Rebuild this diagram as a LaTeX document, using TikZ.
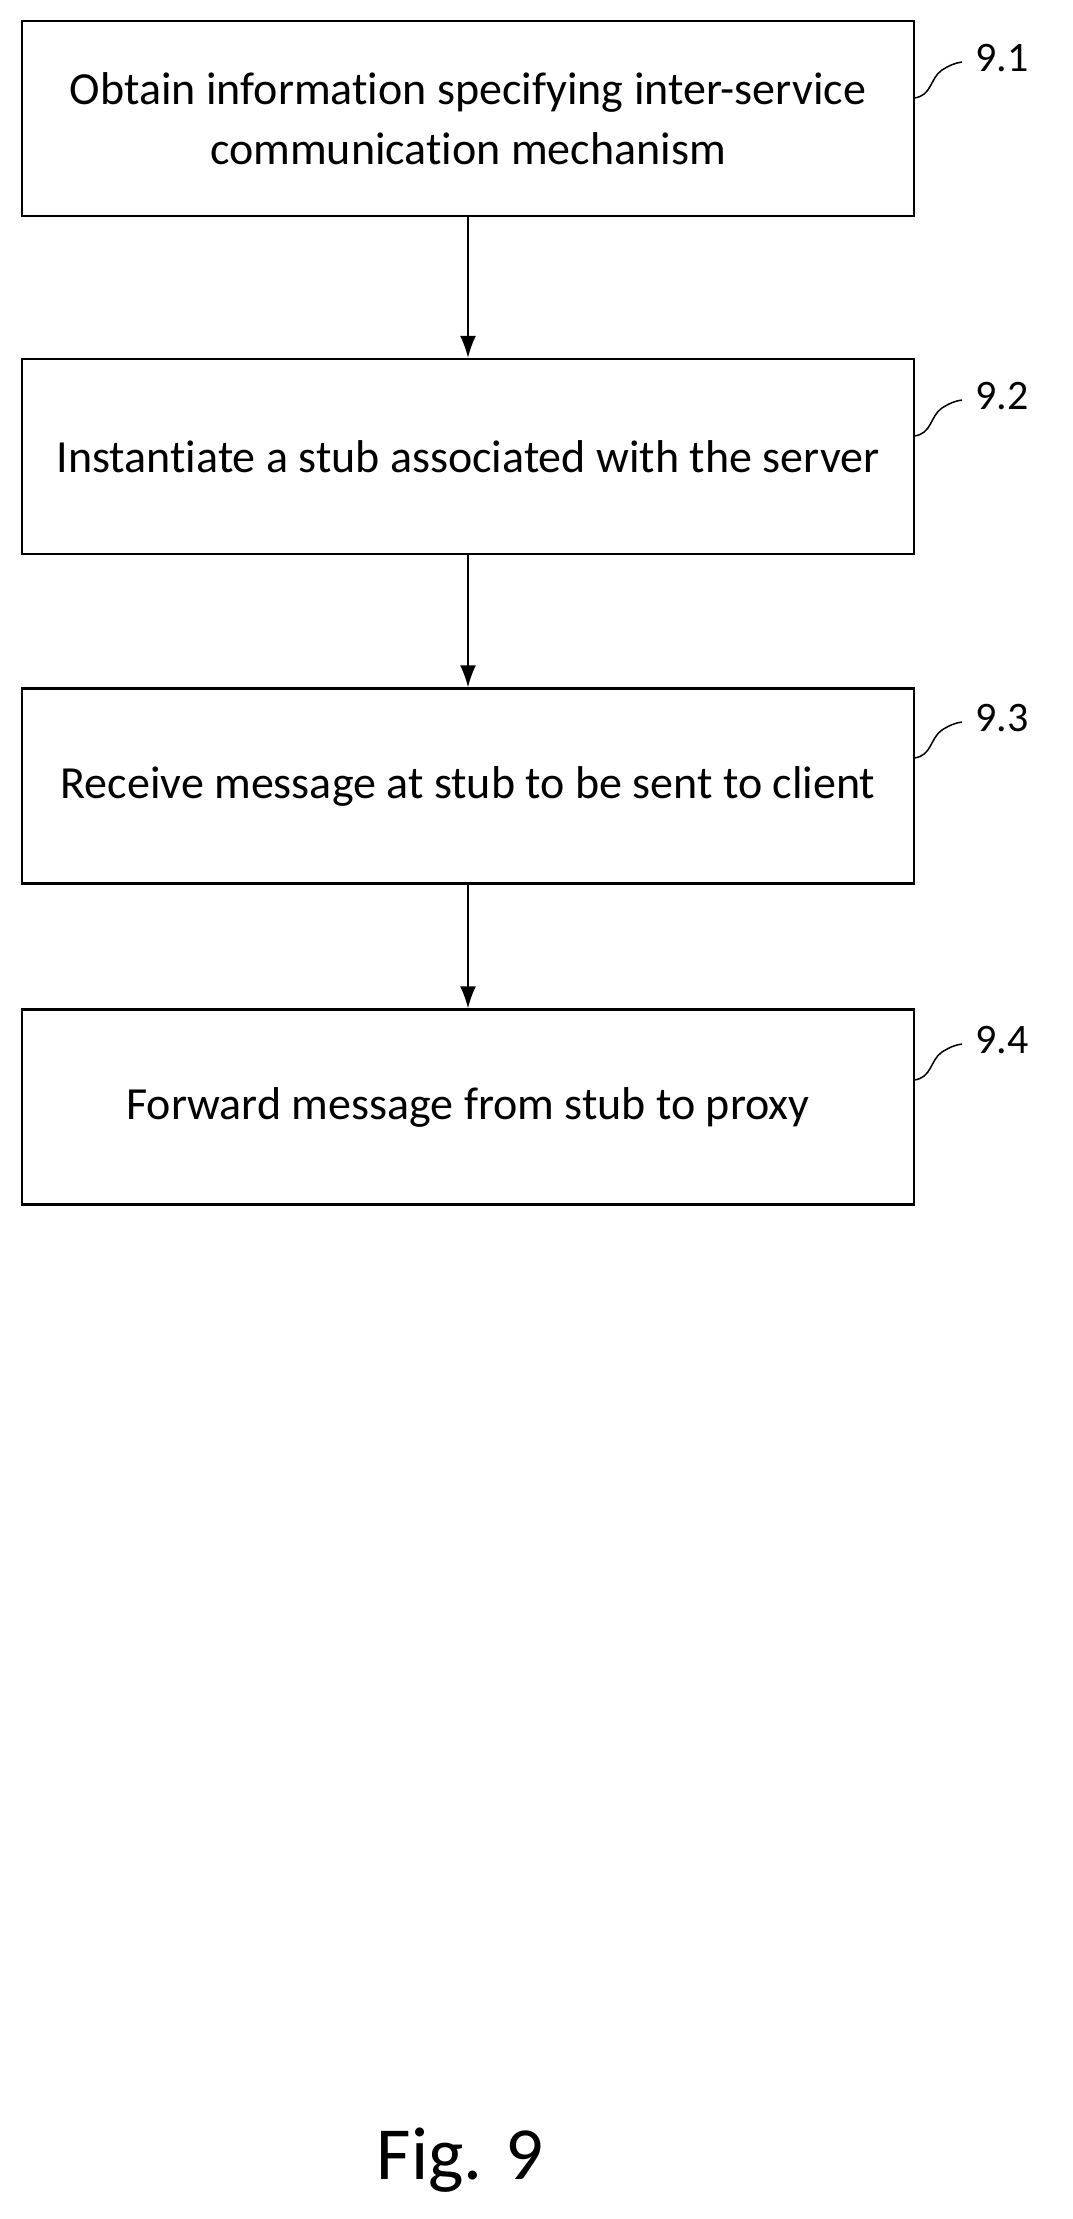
\documentclass[tikz,border=0pt]{standalone}
\usepackage{fontspec}
\setmainfont[Ligatures={NoCommon}]{Carlito}
\usetikzlibrary{arrows.meta}
\begin{document}
\begin{tikzpicture}[x=1pt,y=1pt,
  box/.style={draw,line width=2.2pt,minimum width=892pt,minimum height=195pt,align=center,font=\fontsize{46}{60}\selectfont,inner sep=0pt},
  arr/.style={-{Latex[length=22pt,width=16pt]},line width=2pt},
  lab/.style={font=\fontsize{42}{50}\selectfont,anchor=west},
  sq/.style={line width=1.5pt}]
\useasboundingbox (0,0) rectangle (1072,-2219);
\node[box] (b1) at (468,-118.5) {Obtain information specifying inter-service\\communication mechanism};
\node[box] (b2) at (468,-456.5) {Instantiate a stub associated with the server};
\node[box] (b3) at (468,-786) {Receive message at stub to be sent to client};
\node[box] (b4) at (468,-1107) {Forward message from stub to proxy};
\draw[arr] (b1) -- (b2);
\draw[arr] (b2) -- (b3);
\draw[arr] (b3) -- (b4);
\foreach \i/\n/\y in {a/9.1/-98, b/9.2/-436, c/9.3/-758, d/9.4/-1080}{
  \coordinate (s\i) at (914,\y);
  \coordinate (e\i) at (962,\y+36);
  \node[lab] (l\i) at (972,\y+40) {\n};
  \draw[sq] (s\i) .. controls (932,\y+2) and (930,\y+20) .. (942,\y+28) .. controls (950,\y+33) and (955,\y+35) .. (e\i);
}
\node[font=\fontsize{75}{80}\selectfont] (fig) at (460,-2160) {Fig. 9};
\end{tikzpicture}
\end{document}
